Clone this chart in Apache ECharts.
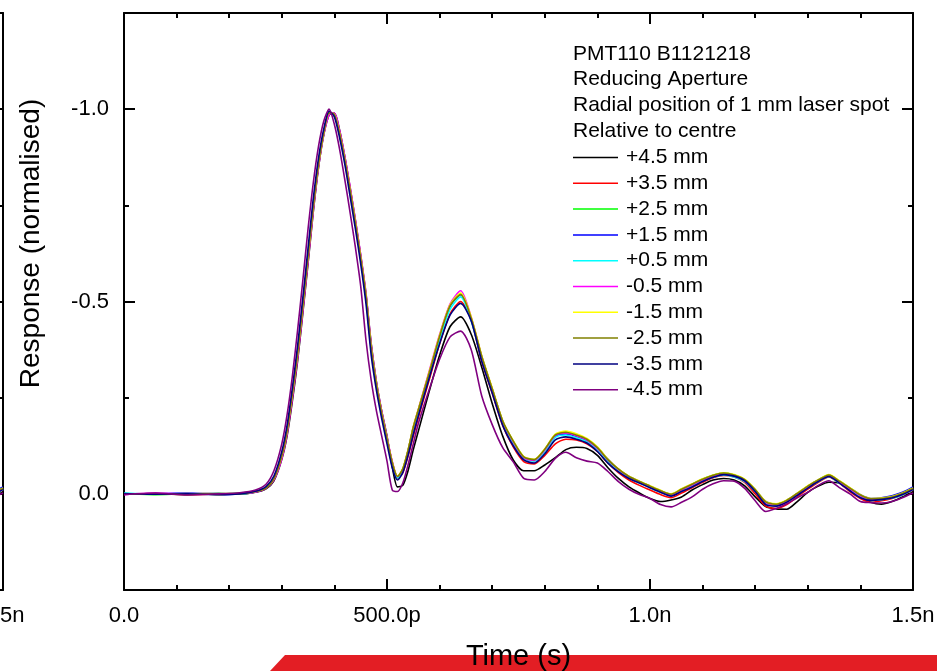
<!DOCTYPE html>
<html><head><meta charset="utf-8">
<script src="https://cdn.jsdelivr.net/npm/echarts@6/dist/echarts.min.js"></script>
<style>html,body{margin:0;padding:0;background:#fff}#c{width:937px;height:671px}</style>
</head><body><div id="c"></div>
<script>
// ---------- data ----------
const timePs = [0,60,120,180,220,250,270,285,
  300,310,320,330,340,350,360,370,380,390,400,410,420,430,440,450,460,470,480,490,500,510,520,530,540,550,560,
  580,600,620,640,660,680,700,720,740,760,780,800,820,840,860,880,900,920,940,960,980,1000,1020,1040,
  1060,1080,1100,1120,1140,1160,1180,1200,1220,1240,1260,1280,1300,1320,1340,1360,1380,1400,1420,1440,1460,1480,1500];

const seriesNames = ['+4.5 mm','+3.5 mm','+2.5 mm','+1.5 mm','+0.5 mm','-0.5 mm','-1.5 mm','-2.5 mm','-3.5 mm','-4.5 mm'];
const seriesColors = ['#000000','#ff0000','#00ff00','#0000ff','#00ffff','#ff00ff','#ffff00','#808000','#000080','#800080'];

const p45 = [0.000,0.001,0.000,-0.001,0.001,-0.004,-0.013,-0.034,
  -0.090,-0.150,-0.240,-0.345,-0.470,-0.600,-0.735,-0.850,-0.935,-0.985,-0.990,-0.945,-0.875,-0.795,-0.710,-0.620,-0.520,-0.390,-0.290,-0.215,-0.150,-0.070,-0.018,-0.022,-0.060,-0.115,-0.165,
  -0.265,-0.360,-0.435,-0.460,-0.415,-0.330,-0.235,-0.150,-0.088,-0.060,-0.060,-0.075,-0.094,-0.115,-0.121,-0.118,-0.100,-0.068,-0.040,-0.018,-0.002,0.012,0.020,0.016,
  0.008,-0.010,-0.024,-0.036,-0.040,-0.036,-0.021,0.008,0.033,0.039,0.040,0.020,-0.004,-0.020,-0.030,-0.028,-0.012,0.006,0.022,0.027,0.020,0.008,-0.005];
const p35 = [0.001,-0.001,0.002,0.000,-0.001,-0.005,-0.015,-0.038,
  -0.096,-0.160,-0.254,-0.358,-0.482,-0.612,-0.744,-0.856,-0.938,-0.990,-0.987,-0.938,-0.869,-0.790,-0.705,-0.615,-0.516,-0.382,-0.285,-0.210,-0.145,-0.082,-0.040,-0.055,-0.098,-0.150,-0.200,
  -0.295,-0.390,-0.468,-0.500,-0.452,-0.345,-0.262,-0.178,-0.122,-0.084,-0.078,-0.100,-0.130,-0.142,-0.140,-0.130,-0.110,-0.080,-0.055,-0.036,-0.022,-0.010,0.002,0.010,
  -0.002,-0.016,-0.030,-0.042,-0.048,-0.044,-0.030,0.000,0.032,0.038,0.028,0.008,-0.012,-0.030,-0.044,-0.028,-0.006,0.012,0.022,0.018,0.012,0.003,-0.010];
const p25 = [-0.001,0.002,0.000,0.001,-0.002,-0.006,-0.016,-0.040,
  -0.100,-0.165,-0.260,-0.365,-0.490,-0.620,-0.750,-0.860,-0.940,-0.990,-0.985,-0.935,-0.866,-0.787,-0.702,-0.612,-0.512,-0.378,-0.282,-0.207,-0.142,-0.080,-0.044,-0.064,-0.112,-0.172,-0.220,
  -0.314,-0.410,-0.490,-0.520,-0.455,-0.356,-0.272,-0.188,-0.136,-0.095,-0.088,-0.115,-0.152,-0.158,-0.150,-0.139,-0.118,-0.087,-0.063,-0.044,-0.031,-0.019,-0.007,0.002,
  -0.011,-0.024,-0.038,-0.048,-0.054,-0.049,-0.036,-0.010,0.022,0.028,0.018,0.000,-0.019,-0.036,-0.049,-0.032,-0.013,0.004,0.014,0.013,0.008,0.000,-0.014];
const p15 = [0.001,0.000,-0.002,0.002,0.000,-0.005,-0.015,-0.039,
  -0.098,-0.163,-0.258,-0.362,-0.487,-0.617,-0.748,-0.858,-0.939,-0.989,-0.986,-0.937,-0.868,-0.789,-0.704,-0.614,-0.514,-0.380,-0.284,-0.209,-0.144,-0.081,-0.043,-0.063,-0.111,-0.171,-0.219,
  -0.312,-0.408,-0.488,-0.518,-0.455,-0.357,-0.272,-0.188,-0.135,-0.094,-0.087,-0.113,-0.150,-0.156,-0.150,-0.140,-0.120,-0.090,-0.064,-0.045,-0.032,-0.020,-0.008,0.001,
  -0.012,-0.025,-0.038,-0.047,-0.053,-0.048,-0.036,-0.010,0.020,0.027,0.017,-0.001,-0.020,-0.036,-0.049,-0.033,-0.015,0.002,0.012,0.010,0.005,-0.004,-0.018];
const p05 = [-0.002,0.001,0.001,-0.001,0.001,-0.006,-0.016,-0.041,
  -0.101,-0.166,-0.262,-0.367,-0.492,-0.622,-0.751,-0.861,-0.941,-0.990,-0.985,-0.934,-0.864,-0.784,-0.699,-0.609,-0.509,-0.374,-0.279,-0.204,-0.139,-0.077,-0.041,-0.061,-0.109,-0.168,-0.215,
  -0.306,-0.400,-0.480,-0.512,-0.450,-0.352,-0.268,-0.184,-0.132,-0.092,-0.085,-0.110,-0.147,-0.153,-0.146,-0.135,-0.114,-0.084,-0.060,-0.041,-0.028,-0.016,-0.004,0.005,
  -0.008,-0.021,-0.034,-0.043,-0.049,-0.044,-0.032,-0.006,0.025,0.031,0.021,0.003,-0.016,-0.032,-0.045,-0.028,-0.010,0.007,0.017,0.015,0.011,0.003,-0.011];
const m05 = [0.002,-0.002,0.001,0.000,-0.001,-0.005,-0.014,-0.036,
  -0.092,-0.155,-0.248,-0.352,-0.476,-0.606,-0.738,-0.852,-0.935,-0.986,-0.990,-0.944,-0.876,-0.797,-0.712,-0.622,-0.523,-0.388,-0.290,-0.214,-0.148,-0.084,-0.045,-0.064,-0.113,-0.174,-0.222,
  -0.318,-0.414,-0.494,-0.528,-0.460,-0.358,-0.273,-0.188,-0.135,-0.094,-0.087,-0.114,-0.152,-0.158,-0.151,-0.140,-0.118,-0.088,-0.063,-0.044,-0.030,-0.018,-0.006,0.003,
  -0.010,-0.023,-0.036,-0.046,-0.052,-0.047,-0.034,-0.008,0.023,0.029,0.019,0.001,-0.018,-0.034,-0.047,-0.030,-0.012,0.005,0.015,0.013,0.009,0.001,-0.013];
const m15 = [0.000,0.001,-0.001,0.002,-0.001,-0.006,-0.016,-0.040,
  -0.099,-0.164,-0.259,-0.364,-0.489,-0.619,-0.749,-0.859,-0.940,-0.990,-0.986,-0.937,-0.868,-0.789,-0.705,-0.615,-0.516,-0.381,-0.285,-0.209,-0.144,-0.082,-0.046,-0.066,-0.114,-0.175,-0.222,
  -0.316,-0.412,-0.492,-0.522,-0.460,-0.360,-0.275,-0.190,-0.138,-0.097,-0.090,-0.117,-0.155,-0.163,-0.156,-0.144,-0.122,-0.090,-0.065,-0.046,-0.033,-0.021,-0.009,0.000,
  -0.013,-0.026,-0.039,-0.049,-0.055,-0.050,-0.038,-0.012,0.020,0.026,0.016,-0.002,-0.021,-0.037,-0.050,-0.034,-0.016,0.002,0.012,0.011,0.007,-0.002,-0.015];
const m25 = [0.001,0.000,0.002,-0.001,0.000,-0.006,-0.015,-0.039,
  -0.098,-0.163,-0.258,-0.363,-0.488,-0.618,-0.748,-0.859,-0.940,-0.990,-0.986,-0.936,-0.867,-0.788,-0.703,-0.613,-0.514,-0.379,-0.283,-0.208,-0.143,-0.081,-0.045,-0.065,-0.113,-0.173,-0.220,
  -0.313,-0.409,-0.489,-0.518,-0.457,-0.358,-0.273,-0.189,-0.137,-0.096,-0.089,-0.116,-0.153,-0.160,-0.153,-0.142,-0.120,-0.089,-0.064,-0.045,-0.032,-0.020,-0.008,0.001,
  -0.012,-0.025,-0.038,-0.048,-0.054,-0.049,-0.037,-0.011,0.021,0.027,0.017,-0.001,-0.020,-0.036,-0.049,-0.033,-0.015,0.003,0.013,0.012,0.008,-0.001,-0.014];
const m35 = [-0.001,0.001,0.000,0.002,0.000,-0.007,-0.019,-0.046,
  -0.110,-0.178,-0.275,-0.385,-0.510,-0.640,-0.770,-0.875,-0.950,-0.995,-0.980,-0.925,-0.855,-0.772,-0.688,-0.598,-0.495,-0.360,-0.268,-0.195,-0.130,-0.068,-0.036,-0.055,-0.100,-0.155,-0.205,
  -0.300,-0.390,-0.465,-0.495,-0.450,-0.345,-0.262,-0.178,-0.125,-0.088,-0.080,-0.104,-0.140,-0.148,-0.142,-0.132,-0.110,-0.080,-0.057,-0.040,-0.028,-0.016,-0.004,0.006,
  -0.006,-0.018,-0.032,-0.043,-0.050,-0.046,-0.034,-0.006,0.028,0.032,0.022,0.004,-0.015,-0.032,-0.045,-0.028,-0.008,0.010,0.017,0.015,0.011,0.002,-0.011];
const m45 = [0.002,-0.002,0.003,0.000,-0.003,-0.010,-0.025,-0.060,
  -0.130,-0.205,-0.305,-0.425,-0.555,-0.690,-0.810,-0.905,-0.970,-1.000,-0.960,-0.895,-0.815,-0.730,-0.640,-0.540,-0.400,-0.295,-0.215,-0.150,-0.085,-0.010,-0.006,-0.028,-0.075,-0.130,-0.185,
  -0.270,-0.350,-0.408,-0.423,-0.375,-0.255,-0.180,-0.120,-0.083,-0.040,-0.036,-0.058,-0.092,-0.108,-0.094,-0.085,-0.080,-0.058,-0.032,-0.012,0.002,0.012,0.028,0.034,
  0.022,0.008,-0.012,-0.026,-0.034,-0.033,-0.014,0.018,0.046,0.038,0.026,0.010,-0.004,-0.022,-0.034,-0.016,0.000,0.020,0.023,0.024,0.020,0.010,-0.002];

const xTickValues = [0, 500, 1000, 1500];
const xTickText = ['0.0', '500.0p', '1.0n', '1.5n'];
const yTickValues = [-1.0, -0.5, 0.0];
const yTickText = ['-1.0', '-0.5', '0.0'];
const titleLines = ['PMT110 B1121218', 'Reducing Aperture', 'Radial position of 1 mm laser spot', 'Relative to centre'];
const xName = 'Time (s)';
const yName = 'Response (normalised)';

// ---------- chart ----------
const FONT = "'Liberation Sans', Arial, Helvetica, sans-serif";
const allData = [p45, p35, p25, p15, p05, m05, m15, m25, m35, m45];

function xAx(gridIndex, position, showLabels, name) {
  const ax = {
    type: 'value', gridIndex, position, min: 0, max: 1500, interval: 500,
    axisLine: { show: true, onZero: false, lineStyle: { color: '#000', width: 2 } },
    axisTick: { show: true, inside: true, length: 11, lineStyle: { color: '#000', width: 2 } },
    minorTick: { show: true, splitNumber: 5, length: 5, lineStyle: { color: '#000', width: 2 } },
    splitLine: { show: false }, minorSplitLine: { show: false },
    axisLabel: { show: showLabels, margin: 15, fontSize: 22, color: '#000', fontFamily: FONT,
      formatter: v => { const i = xTickValues.indexOf(v); return i >= 0 ? xTickText[i] : ''; } }
  };
  if (name) {
    ax.name = name; ax.nameLocation = 'middle'; ax.nameGap = 52;
    ax.nameTextStyle = { fontSize: 29, color: '#000', fontFamily: FONT };
  }
  return ax;
}
function yAx(gridIndex, position, major, showLabels, name) {
  const ax = {
    type: 'value', gridIndex, position, min: -1.25, max: 0.25, interval: 0.25, inverse: true,
    axisLine: { show: !major, onZero: false, lineStyle: { color: '#000', width: 2 } },
    axisTick: { show: true, inside: true, length: major ? 11 : 5, lineStyle: { color: '#000', width: 2 } },
    splitLine: { show: false },
    axisLabel: { show: showLabels, margin: 15, fontSize: 22, color: '#000', fontFamily: FONT,
      formatter: v => { const i = yTickValues.findIndex(t => Math.abs(t - v) < 1e-9); return i >= 0 ? yTickText[i] : ''; } }
  };
  if (major) ax.axisTick.customValues = yTickValues;
  if (name) {
    ax.name = name; ax.nameLocation = 'middle'; ax.nameGap = 79;
    ax.nameTextStyle = { fontSize: 28, color: '#000', fontFamily: FONT, padding: [0, 0, 0, 116] };
  }
  return ax;
}

const series = [];
[0, 1].forEach(g => {
  allData.forEach((arr, k) => {
    series.push({
      type: 'line', name: seriesNames[k],
      xAxisIndex: g === 0 ? 0 : 2, yAxisIndex: g === 0 ? 0 : 4,
      data: timePs.map((t, i) => [t, arr[i]]),
      symbol: 'none', showSymbol: false, silent: true, smooth: 0.25,
      lineStyle: { width: 1.6, color: seriesColors[k] },
      itemStyle: { color: seriesColors[k] }
    });
  });
});

const option = {
  animation: false,
  backgroundColor: '#fff',
  title: {
    text: titleLines.join('\n'), left: 573, top: 41, padding: 0,
    textStyle: { fontSize: 21, fontWeight: 'normal', color: '#000', fontFamily: FONT, lineHeight: 25.8 }
  },
  legend: {
    data: seriesNames, orient: 'vertical', left: 573, top: 147, padding: 0,
    icon: 'rect', itemWidth: 45, itemHeight: 1.5, itemGap: 4.8, selectedMode: false,
    textStyle: { fontSize: 21, color: '#000', fontFamily: FONT, lineHeight: 21, padding: [0, 0, 0, 3] }
  },
  grid: [
    { left: 124, top: 13, width: 789, height: 577, outerBoundsMode: 'none', containLabel: false },
    { left: -786, top: 13, width: 789, height: 577, outerBoundsMode: 'none', containLabel: false }
  ],
  xAxis: [
    xAx(0, 'bottom', true, xName),
    xAx(0, 'top', false),
    xAx(1, 'bottom', true),
    xAx(1, 'top', false)
  ],
  yAxis: [
    yAx(0, 'left', false, true, yName),
    yAx(0, 'left', true, false),
    yAx(0, 'right', false, false),
    yAx(0, 'right', true, false),
    yAx(1, 'right', false, false),
    yAx(1, 'right', true, false)
  ],
  graphic: {
    elements: [{
      type: 'polygon', z: -10, silent: true,
      shape: { points: [[285, 655], [937, 655], [937, 671], [270, 671]] },
      style: { fill: '#e31e24' }
    }]
  },
  series
};
const chart = echarts.init(document.getElementById('c'), null, { renderer: 'canvas' });
chart.setOption(option);
</script>
</body></html>
